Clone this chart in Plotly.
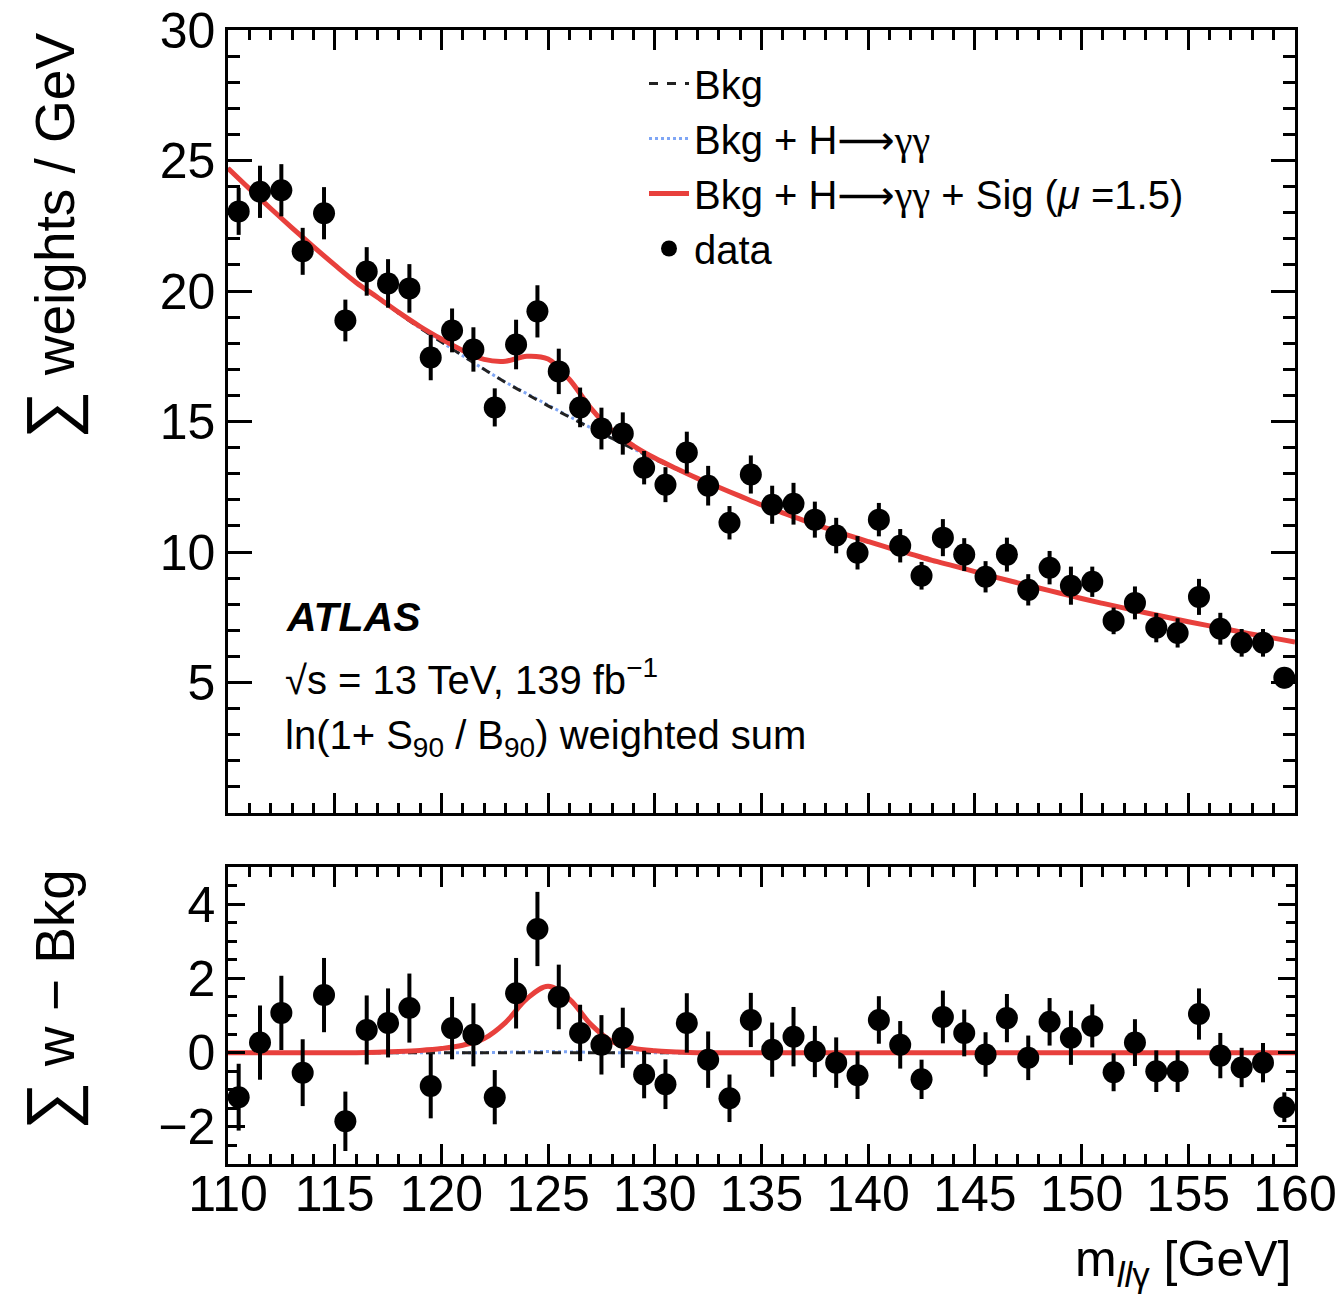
import plotly.graph_objects as go

# ---------------- data ----------------
mass_bins = [110.5, 111.5, 112.5, 113.5, 114.5, 115.5, 116.5, 117.5, 118.5, 119.5,
             120.5, 121.5, 122.5, 123.5, 124.5, 125.5, 126.5, 127.5, 128.5, 129.5,
             130.5, 131.5, 132.5, 133.5, 134.5, 135.5, 136.5, 137.5, 138.5, 139.5,
             140.5, 141.5, 142.5, 143.5, 144.5, 145.5, 146.5, 147.5, 148.5, 149.5,
             150.5, 151.5, 152.5, 153.5, 154.5, 155.5, 156.5, 157.5, 158.5, 159.5]

data_sum = [23.05, 23.8, 23.86, 21.52, 22.98, 18.87, 20.75, 20.29, 20.1, 17.45,
            18.49, 17.76, 15.54, 17.95, 19.22, 16.92, 15.54, 14.73, 14.54, 13.23,
            12.58, 13.81, 12.54, 11.12, 12.97, 11.81, 11.85, 11.24, 10.63, 9.97,
            11.24, 10.24, 9.09, 10.55, 9.9, 9.05, 9.9, 8.55, 9.4, 8.71,
            8.86, 7.36, 8.05, 7.1, 6.9, 8.28, 7.06, 6.52, 6.52, 5.18]

data_err = [0.9, 1.0, 1.0, 0.9, 1.0, 0.8, 0.93, 0.93, 0.93, 0.87,
            0.84, 0.85, 0.73, 0.95, 1.0, 0.87, 0.76, 0.8, 0.81, 0.64,
            0.67, 0.8, 0.76, 0.64, 0.73, 0.73, 0.8, 0.69, 0.68, 0.64,
            0.64, 0.64, 0.53, 0.71, 0.63, 0.6, 0.65, 0.6, 0.64, 0.73,
            0.58, 0.51, 0.63, 0.56, 0.56, 0.69, 0.61, 0.53, 0.53, 0.4]

resid = [-1.2, 0.27, 1.07, -0.54, 1.55, -1.85, 0.61, 0.8, 1.2, -0.9,
         0.66, 0.48, -1.2, 1.6, 3.33, 1.5, 0.53, 0.21, 0.4, -0.59,
         -0.85, 0.8, -0.19, -1.23, 0.88, 0.08, 0.43, 0.03, -0.27, -0.61,
         0.88, 0.21, -0.72, 0.96, 0.53, -0.05, 0.93, -0.14, 0.83, 0.4,
         0.72, -0.53, 0.27, -0.5, -0.5, 1.04, -0.08, -0.4, -0.27, -1.47]

curve_x = [110, 111, 112, 113, 114, 115, 116, 117, 118, 119,
           120, 121, 122, 123, 124, 125, 126, 127, 128, 129,
           130, 131, 132, 133, 134, 135, 136, 137, 138, 139,
           140, 141, 142, 143, 144, 145, 146, 147, 148, 149,
           150, 151, 152, 153, 154, 155, 156, 157, 158, 159, 160]

bkg = [24.7, 23.92, 23.16, 22.42, 21.7, 21.0, 20.33, 19.75, 19.15, 18.58,
       18.05, 17.52, 17.0, 16.5, 16.05, 15.6, 15.17, 14.75, 14.35, 13.95,
       13.55, 13.18, 12.82, 12.48, 12.14, 11.8, 11.5, 11.2, 10.92, 10.66,
       10.4, 10.15, 9.92, 9.68, 9.47, 9.25, 9.03, 8.82, 8.62, 8.42,
       8.22, 8.03, 7.85, 7.67, 7.5, 7.33, 7.17, 7.01, 6.85, 6.7, 6.55]

hgg = [0, 0, 0, 0, 0, 0, 0, 0, 0, 0,
       0, 0, 0, 0.01, 0.02, 0.03, 0.02, 0.01, 0, 0,
       0, 0, 0, 0, 0, 0, 0, 0, 0, 0,
       0, 0, 0, 0, 0, 0, 0, 0, 0, 0,
       0, 0, 0, 0, 0, 0, 0, 0, 0, 0, 0]

sig = [0, 0, 0, 0, 0, 0, 0, 0.01, 0.03, 0.06,
       0.11, 0.2, 0.38, 0.8, 1.43, 1.76, 1.42, 0.75, 0.3, 0.12,
       0.05, 0.02, 0, 0, 0, 0, 0, 0, 0, 0,
       0, 0, 0, 0, 0, 0, 0, 0, 0, 0,
       0, 0, 0, 0, 0, 0, 0, 0, 0, 0, 0]

x_ticks = [110, 115, 120, 125, 130, 135, 140, 145, 150, 155, 160]
y_ticks_top = [5, 10, 15, 20, 25, 30]
y_ticks_bot = [-2, 0, 2, 4]

# ---------------- derived ----------------
bkg_h = [b + h for b, h in zip(bkg, hgg)]
bkg_h_sig = [b + h + s for b, h, s in zip(bkg, hgg, sig)]
zero = [0 for _ in curve_x]
h_only = list(hgg)
h_sig = [h + s for h, s in zip(hgg, sig)]

RED = "#e8403c"
BLUE = "#7fa6f5"
FONT = "Liberation Sans, Arial, Helvetica, sans-serif"
GG = "<span style=\"font-family:'Liberation Serif'\">γγ</span>"
ARROW = "<span style=\"font-family:'DejaVu Sans'\">⟶</span>"

fig = go.Figure()

# top panel
fig.add_trace(go.Scatter(x=curve_x, y=bkg_h, mode="lines", line=dict(color=BLUE, width=3, dash="dot", shape="spline"),
                         name="Bkg + H" + ARROW + GG,
                         xaxis="x", yaxis="y", legendrank=2))
fig.add_trace(go.Scatter(x=curve_x, y=bkg, mode="lines", line=dict(color="#222222", width=3, dash="dash", shape="spline"),
                         name="Bkg", xaxis="x", yaxis="y", legendrank=1))
fig.add_trace(go.Scatter(x=curve_x, y=bkg_h_sig, mode="lines", line=dict(color=RED, width=5, shape="spline"),
                         name="Bkg + H" + ARROW + GG + " + Sig (<i>μ</i> =1.5)",
                         xaxis="x", yaxis="y", legendrank=3))
fig.add_trace(go.Scatter(x=mass_bins, y=data_sum, mode="markers",
                         marker=dict(color="black", size=22),
                         error_y=dict(type="data", array=data_err, visible=True, thickness=4, width=0, color="black"),
                         name="data", xaxis="x", yaxis="y", legendrank=4))

# bottom panel
fig.add_trace(go.Scatter(x=curve_x, y=h_only, mode="lines", line=dict(color=BLUE, width=3, dash="dot", shape="spline"),
                         showlegend=False, xaxis="x2", yaxis="y2"))
fig.add_trace(go.Scatter(x=curve_x, y=zero, mode="lines", line=dict(color="#222222", width=3, dash="dash"),
                         showlegend=False, xaxis="x2", yaxis="y2"))
fig.add_trace(go.Scatter(x=curve_x, y=h_sig, mode="lines", line=dict(color=RED, width=5, shape="spline"),
                         showlegend=False, xaxis="x2", yaxis="y2"))
fig.add_trace(go.Scatter(x=mass_bins, y=resid, mode="markers",
                         marker=dict(color="black", size=22),
                         error_y=dict(type="data", array=data_err, visible=True, thickness=4, width=0, color="black"),
                         showlegend=False, xaxis="x2", yaxis="y2"))

# The page body adds an 8 px offset; figure coordinates below are screen pixels minus that offset.
OFF = 8
W, H = 1343 - OFF, 1298 - OFF
L, R, T = 228 - OFF, 1343 - 1295, 30 - OFF
B = H - (1164 - OFF)
plot_h = H - T - B
top_lo = (1164 - 813) / plot_h
bot_hi = (1164 - 867) / plot_h

def px(xp):
    return (xp - 228) / (1295 - 228)

def py(yp):
    return (1164 - yp) / plot_h

axis_common = dict(showline=True, linecolor="black", linewidth=2.5, mirror="allticks", automargin=False,
                   ticks="inside", tickcolor="black", tickwidth=2.5, showgrid=False, zeroline=False,
                   ticklabeloverflow="allow",
                   tickfont=dict(family=FONT, size=50, color="black"))

fig.update_layout(
    width=W, height=H,
    margin=dict(l=L, r=R, t=T, b=B, autoexpand=False),
    paper_bgcolor="white", plot_bgcolor="white",
    font=dict(family=FONT, color="black"),
    xaxis=dict(domain=[0, 1], anchor="y", range=[110, 160], tickvals=x_ticks, showticklabels=False,
               ticklen=20, minor=dict(tickmode="linear", tick0=110, dtick=1, ticklen=10, ticks="inside",
                                      tickcolor="black", tickwidth=2.5), **axis_common),
    yaxis=dict(domain=[top_lo, 1], anchor="x", range=[0, 30], tickvals=y_ticks_top,
               ticklen=24, ticklabelstandoff=0,
               minor=dict(tickmode="linear", tick0=0, dtick=1, ticklen=12, ticks="inside",
                          tickcolor="black", tickwidth=2.5), **axis_common),
    xaxis2=dict(domain=[0, 1], anchor="y2", range=[110, 160], tickvals=x_ticks, ticklen=20,
                ticklabelstandoff=-16,
                minor=dict(tickmode="linear", tick0=110, dtick=1, ticklen=10, ticks="inside",
                           tickcolor="black", tickwidth=2.5), **axis_common),
    yaxis2=dict(domain=[0, bot_hi], anchor="x2", range=[-3, 5], tickvals=y_ticks_bot, ticklen=17,
                ticklabelstandoff=0,
                minor=dict(tickmode="linear", tick0=-3, dtick=0.5, ticklen=9, ticks="inside",
                           tickcolor="black", tickwidth=2.5), **axis_common),
    legend=dict(x=px(644), y=py(51), xanchor="left", yanchor="top", bgcolor="rgba(0,0,0,0)",
                font=dict(family=FONT, size=40, color="black"), traceorder="normal", itemwidth=40,
                tracegroupgap=0),
    showlegend=True,
)

annots = [
    dict(text="<span style=\"font-size:68px\">∑</span> weights / GeV", x=px(50), y=py(236), textangle=-90,
         font=dict(size=55)),
    dict(text="<span style=\"font-size:68px\">∑</span> w − Bkg", x=px(50), y=py(1000), textangle=-90,
         font=dict(size=55)),
    dict(text="m<sub><i>ll</i>γ</sub> [GeV]", x=px(1293), y=py(1262), xanchor="right", font=dict(size=50)),
    dict(text="<b><i>ATLAS</i></b>", x=px(284), y=py(617), xanchor="left", font=dict(size=41)),
    dict(text="√s = 13 TeV, 139 fb<sup>−1</sup>", x=px(283), y=py(677), xanchor="left", font=dict(size=40)),
    dict(text="ln(1+ S<sub>90</sub> / B<sub>90</sub>) weighted sum", x=px(283), y=py(738), xanchor="left",
         font=dict(size=40)),
]
for a in annots:
    base = dict(xref="paper", yref="paper", showarrow=False, xanchor="center", yanchor="middle")
    base.update(a)
    base["font"] = dict(family=FONT, color="black", **a.get("font", {}))
    fig.add_annotation(**base)

fig.write_html("out.html")
